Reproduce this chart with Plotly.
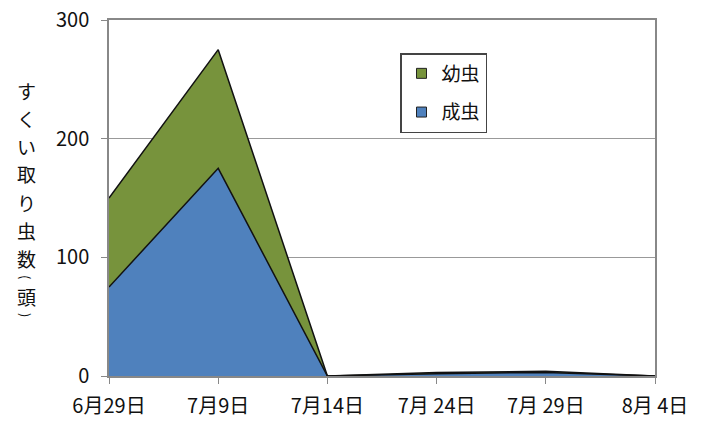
import plotly.graph_objects as go

# survey dates and sweep-net counts (head count)
dates = ["6月29日", "7月9日", "7月14日", "7月 24日", "7月 29日", "8月 4日"]
adults = [75, 175, 0, 2, 3, 0]     # 成虫
larvae = [75, 100, 0, 1, 1, 0]     # 幼虫
y_ticks = [0, 100, 200, 300]

BLUE = "#4F81BD"
GREEN = "#77933C"
font_family = "Noto Sans CJK JP"
x_idx = list(range(len(dates)))

fig = go.Figure()
fig.add_trace(go.Scatter(
    x=x_idx, y=adults, name="成虫", stackgroup="one", mode="lines",
    line=dict(color="#111111", width=1.5), fillcolor=BLUE, showlegend=False,
))
fig.add_trace(go.Scatter(
    x=x_idx, y=larvae, name="幼虫", stackgroup="one", mode="lines",
    line=dict(color="#111111", width=1.5), fillcolor=GREEN, showlegend=False,
))

# square legend keys, larvae listed first
for name, color in [("幼虫", GREEN), ("成虫", BLUE)]:
    fig.add_trace(go.Scatter(
        x=[None], y=[None], name=name, mode="markers", legendgroup=name,
        marker=dict(symbol="square", size=10, color=color,
                    line=dict(color="#222222", width=1)),
    ))

# upright vertical axis title, one glyph per row; brackets are turned 90°
title_chars = ["す", "く", "い", "取", "り", "虫", "数", "(", "頭", ")"]
title_rows = [90, 118, 146, 174, 202, 230, 258, 277, 296, 315]
plot_top, plot_bottom = 20, 376
for ch, row in zip(title_chars, title_rows):
    bracket = ch in "()"
    fig.add_annotation(
        text=ch, xref="paper", yref="paper",
        x=(26 - 109) / 546, y=(plot_bottom - row) / (plot_bottom - plot_top),
        xanchor="center", yanchor="middle", showarrow=False, borderpad=0,
        textangle=90 if bracket else 0,
        font=dict(family=font_family, size=13 if bracket else 19, color="#111111"),
    )

fig.update_layout(
    width=710, height=423,
    margin=dict(l=109, r=55, t=20, b=47, autoexpand=False),
    paper_bgcolor="white", plot_bgcolor="white",
    font=dict(family=font_family, size=20, color="#111111"),
    showlegend=True,
    legend=dict(
        x=(400 - 109) / 546, y=(376 - 53) / 356, xanchor="left", yanchor="top",
        traceorder="grouped", tracegroupgap=11,
        bordercolor="#444444", borderwidth=1.5,
        bgcolor="white", font=dict(size=19), itemwidth=30,
    ),
    xaxis=dict(
        tickmode="array", tickvals=x_idx, ticktext=dates,
        range=[0, len(dates) - 1], showgrid=False, zeroline=False,
        showline=True, linecolor="#888888", linewidth=1.5, mirror=True,
        ticks="outside", ticklen=6, tickcolor="#888888",
        ticklabelstandoff=5, automargin=False,
    ),
    yaxis=dict(
        range=[0, 300], tickvals=y_ticks, showgrid=True,
        gridcolor="#999999", gridwidth=1, zeroline=False,
        showline=True, linecolor="#888888", linewidth=1.5, mirror=True,
        ticks="outside", ticklen=6, tickcolor="#888888",
        ticklabelstandoff=8, automargin=False,
    ),
)

fig.write_html("out.html")
